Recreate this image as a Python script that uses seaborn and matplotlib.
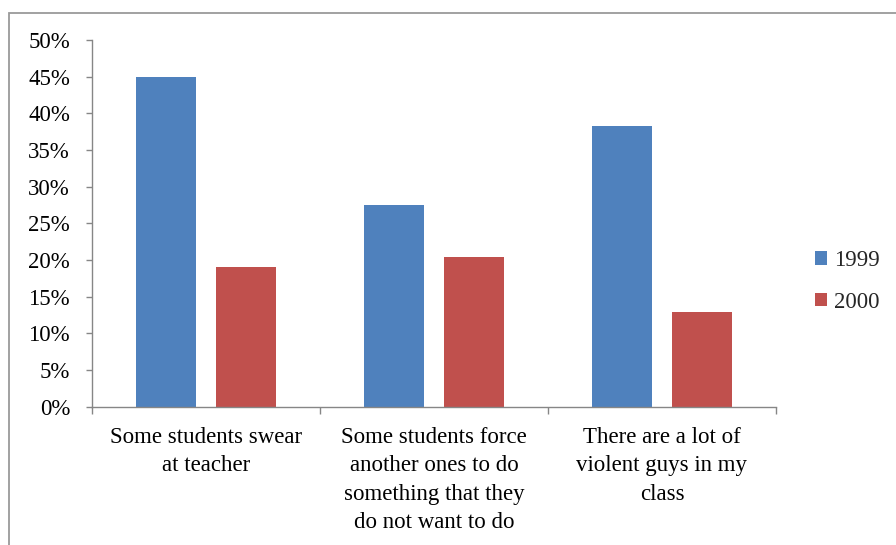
import matplotlib
matplotlib.use("Agg")
import matplotlib.pyplot as plt
import seaborn as sns
import pandas as pd
from matplotlib.ticker import PercentFormatter, MultipleLocator, FixedLocator
from matplotlib.patches import Rectangle

categories = [
    "Some students swear\nat teacher",
    "Some students force\nanother ones to do\nsomething that they\ndo not want to do",
    "There are a lot of\nviolent guys in my\nclass",
]
years = ["1999", "2000"]
values_1999 = [0.450, 0.275, 0.383]
values_2000 = [0.191, 0.204, 0.129]
colors = ["#4F81BD", "#C0504D"]

df = pd.DataFrame({
    "category": categories * 2,
    "year": [years[0]] * len(categories) + [years[1]] * len(categories),
    "value": values_1999 + values_2000,
})

sns.set_theme(style="white")
plt.rcParams["font.family"] = ["Liberation Serif", "DejaVu Serif"]

fig = plt.figure(figsize=(8.96, 5.45), dpi=100)
W, H = 896, 545
ax = fig.add_axes([92 / W, 1 - 406.7 / H, (776 - 92) / W, (406.7 - 40) / H])

sns.barplot(data=df, x="category", y="value", hue="year", palette=colors,
            width=0.7, gap=0.25, saturation=1, errorbar=None, ax=ax,
            edgecolor="none")

fs = 16.5
spine_c = "#868686"
ax.set_xlim(-0.5, 2.5)
ax.set_ylim(0, 0.5)
ax.yaxis.set_major_locator(MultipleLocator(0.05))
ax.yaxis.set_major_formatter(PercentFormatter(1, decimals=0))
ax.set_xlabel("")
ax.set_ylabel("")
for s in ["top", "right"]:
    ax.spines[s].set_visible(False)
for s in ["left", "bottom"]:
    ax.spines[s].set_color(spine_c)
    ax.spines[s].set_linewidth(1.0)

ax.tick_params(axis="y", which="major", direction="out", length=4.3, width=1,
               color=spine_c, pad=11.5, labelsize=fs, labelcolor="black", left=True)
ax.tick_params(axis="x", which="major", length=0, pad=14.5, labelsize=fs, labelcolor="black")
ax.xaxis.set_minor_locator(FixedLocator([-0.5, 0.5, 1.5, 2.5]))
ax.tick_params(axis="x", which="minor", direction="out", length=5, width=1,
               color=spine_c, bottom=True)
for lbl in ax.get_xticklabels():
    lbl.set_linespacing(1.46)

handles, labels = ax.get_legend_handles_labels()
ax.legend(handles, labels, loc="center left", bbox_to_anchor=(815 / W, 1 - 281.5 / H),
          bbox_transform=fig.transFigure, frameon=False, fontsize=fs,
          handlelength=0.52, handleheight=0.52, handletextpad=0.3,
          labelspacing=0.9, borderpad=0, borderaxespad=0)

fig.add_artist(Rectangle((9 / W, -0.2), 1.5, 1.2 - 12.5 / H, transform=fig.transFigure,
                         fill=False, edgecolor="#9A9A9A", linewidth=1.3))

fig.savefig("out.png", dpi=100)
